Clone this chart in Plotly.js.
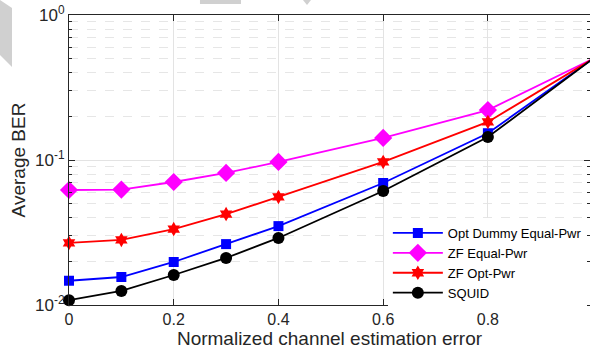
<!DOCTYPE html>
<html><head><meta charset="utf-8">
<script src="https://cdn.plot.ly/plotly-3.0.1.min.js"></script>
<style>html,body{margin:0;padding:0;background:#fff}#chart{width:590px;height:354px}</style>
</head><body><div id="chart"></div>
<script>
const errorLevels = [0, 0.1, 0.2, 0.3, 0.4, 0.6, 0.8, 1.0];
const optDummyEqualPwr = [0.0147, 0.0156, 0.0198, 0.0263, 0.0350, 0.0694, 0.153, 0.497];
const zfEqualPwr      = [0.0621, 0.0625, 0.0705, 0.0814, 0.0970, 0.142, 0.221, 0.497];
const zfOptPwr        = [0.0268, 0.0281, 0.0334, 0.0424, 0.0556, 0.097, 0.183, 0.497];
const squid           = [0.0108, 0.0125, 0.0161, 0.0211, 0.0290, 0.0611, 0.144, 0.497];
const seriesNames = ['Opt Dummy Equal-Pwr', 'ZF Equal-Pwr', 'ZF Opt-Pwr', 'SQUID'];
const xTickVals = [0, 0.2, 0.4, 0.6, 0.8];
const xTickText = ['0', '0.2', '0.4', '0.6', '0.8'];
const yTickVals = [0.01, 0.1, 1];
const yTickText = ['10<sup>-2</sup>', '10<sup>-1</sup>', '10<sup>0</sup>'];
const yMinorVals = [0.02,0.03,0.04,0.05,0.06,0.07,0.08,0.09,0.2,0.3,0.4,0.5,0.6,0.7,0.8,0.9];

const styles = [
  {color:'#0000ff', symbol:'square', size:10},
  {color:'#ff00ff', symbol:'diamond', size:14},
  {color:'#ff0000', symbol:'hexagram', size:11},
  {color:'#000000', symbol:'circle', size:12}
];
const ys = [optDummyEqualPwr, zfEqualPwr, zfOptPwr, squid];
const traces = ys.map((y,i)=>({
  x: errorLevels, y: y, name: seriesNames[i], type:'scatter', mode:'lines+markers',
  line:{color:styles[i].color, width:1.8},
  marker:{color:styles[i].color, symbol:styles[i].symbol, size:styles[i].size, line:{width:0}},
  cliponaxis:false
}));
const axisColor = '#262626';
const layout = {
  width:590, height:354,
  margin:{l:69, r:0, t:15, b:49},
  paper_bgcolor:'#fff', plot_bgcolor:'#fff',
  font:{family:'"Liberation Sans", Arial, Helvetica, sans-serif', color:axisColor, size:16},
  showlegend:true,
  legend:{x:0.612, y:0.30, xanchor:'left', yanchor:'top', bgcolor:'rgba(255,255,255,1)',
    borderwidth:0, font:{size:13, color:'#000'}, tracegroupgap:0, itemwidth:50},
  xaxis:{range:[0, 0.995], tickvals:xTickVals, ticktext:xTickText,
    ticks:'inside', ticklen:6, tickcolor:axisColor, tickwidth:1,
    showline:true, linecolor:axisColor, linewidth:1, mirror:'ticks',
    showgrid:true, gridcolor:'#e3e3e3', gridwidth:1, zeroline:false,
    tickfont:{size:16, color:axisColor},
    title:{text:'Normalized channel estimation error', font:{size:19, color:axisColor}, standoff:3}},
  yaxis:{type:'log', range:[-2, 0], tickvals:yTickVals, ticktext:yTickText,
    ticks:'inside', ticklen:6, tickcolor:axisColor, tickwidth:1,
    showline:true, linecolor:axisColor, linewidth:1, mirror:'ticks',
    showgrid:true, gridcolor:'#e3e3e3', gridwidth:1, zeroline:false,
    tickfont:{size:17, color:axisColor},
    minor:{tickmode:'array', tickvals:yMinorVals, ticks:'inside', ticklen:3, tickcolor:axisColor,
      showgrid:true, gridcolor:'#e6e6e6', griddash:'dash', gridwidth:1},
    title:{text:'Average BER', font:{size:19, color:axisColor}, standoff:4}},
  shapes:[
    {type:'path', xref:'paper', yref:'paper', layer:'above', line:{width:0}, fillcolor:'#d0d0d0',
     path:'M -0.1324 1.0517 L -0.1094 1.0241 L -0.1094 0.8207 L -0.1324 0.8621 Z'},
    {type:'rect', xref:'paper', yref:'paper', layer:'above', line:{width:0}, fillcolor:'#d0d0d0',
     x0:0.2514, x1:0.3301, y0:1.0379, y1:1.0517},
    {type:'path', xref:'paper', yref:'paper', layer:'above', line:{width:0}, fillcolor:'#d0d0d0',
     path:'M 0.4491 1.0517 L 0.4645 1.0517 L 0.4568 1.0345 Z'}
  ]
};
Plotly.newPlot('chart', traces, layout, {displayModeBar:false, staticPlot:true});
</script></body></html>
